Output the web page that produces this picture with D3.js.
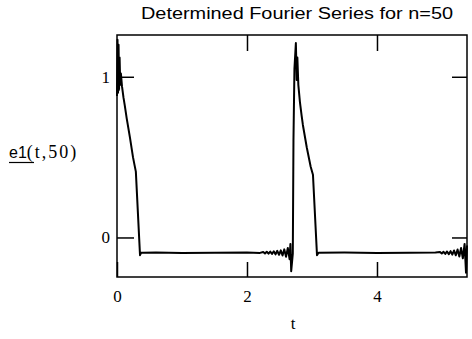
<!DOCTYPE html>
<html>
<head>
<meta charset="utf-8">
<script src="https://cdn.jsdelivr.net/npm/d3@7"></script>
<style>
  body { margin: 0; background: #fff; }
  .tick line { stroke: #000; stroke-width: 1.5px; }
  .domain { display: none; }
</style>
</head>
<body>
<svg id="chart" width="472" height="339"></svg>
<script>
// e1(t, 50)
const tValues = [
  0, 0.008, 0.016, 0.024, 0.032, 0.04, 0.05, 0.06, 0.077, 0.10, 0.12, 0.15, 0.20, 0.246, 0.27, 0.29, 0.354, 0.37, 0.40,
  0.6, 1.0, 1.5, 2.0, 2.2,
  2.25, 2.277, 2.304, 2.331, 2.358, 2.385, 2.412, 2.439, 2.466, 2.493, 2.52, 2.547, 2.574, 2.601, 2.628, 2.655, 2.668, 2.68,
  2.705, 2.715, 2.73, 2.752, 2.765, 2.775, 2.79, 2.815, 2.84, 2.86, 2.92, 2.98, 3.015, 3.077, 3.10,
  3.5, 4.0, 4.5, 4.9,
  4.97, 4.997, 5.024, 5.051, 5.078, 5.105, 5.132, 5.159, 5.186, 5.213, 5.24, 5.267, 5.294, 5.321, 5.348, 5.37, 5.385
];
const eValues = [
  0.88, 1.23, 0.90, 1.20, 0.92, 1.12, 0.95, 1.02, 0.94, 0.87, 0.82, 0.74, 0.62, 0.50, 0.45, 0.41, -0.11, -0.095, -0.095,
  -0.094, -0.096, -0.095, -0.094, -0.096,
  -0.090, -0.100, -0.089, -0.101, -0.088, -0.103, -0.086, -0.105, -0.083, -0.108, -0.080, -0.112, -0.074, -0.120, -0.065, -0.135, -0.04, -0.21,
  -0.10, 0.6, 1.05, 1.21, 0.98, 1.12, 0.95, 0.84, 0.76, 0.70, 0.56, 0.44, 0.39, -0.11, -0.095,
  -0.094, -0.096, -0.095, -0.094,
  -0.090, -0.100, -0.089, -0.102, -0.087, -0.104, -0.085, -0.107, -0.081, -0.111, -0.075, -0.118, -0.066, -0.13, -0.04, -0.22, -0.05
];
const xTicks = [0, 2, 4];
const yTicks = [0, 1];
const xDomain = [0, 5.385];
const yDomain = [-0.246, 1.26];

const serif = '"Liberation Serif", "Times New Roman", "DejaVu Serif", serif';
const sans = '"Liberation Sans", Arial, sans-serif';

const svg = d3.select('#chart');
const margin = { left: 117, right: 467, top: 35, bottom: 277 };

const x = d3.scaleLinear().domain(xDomain).range([margin.left, margin.right]);
const y = d3.scaleLinear().domain(yDomain).range([margin.bottom, margin.top]);

const points = tValues.map((t, i) => [t, eValues[i]]);

// curve
svg.append('path')
  .datum(points)
  .attr('fill', 'none')
  .attr('stroke', '#000')
  .attr('stroke-width', 2)
  .attr('stroke-linejoin', 'round')
  .attr('d', d3.line().x(d => x(d[0])).y(d => y(d[1])));

// inward ticks on all four sides
const xAxis = svg.append('g')
  .attr('transform', `translate(0,${margin.bottom})`)
  .call(d3.axisBottom(x).tickValues(xTicks).tickSize(-15).tickPadding(13).tickFormat(d3.format('d')));

svg.append('g')
  .attr('transform', `translate(0,${margin.top})`)
  .call(d3.axisTop(x).tickValues(xTicks.slice(1)).tickSize(-16).tickFormat(''));

const yAxis = svg.append('g')
  .attr('transform', `translate(${margin.left},0)`)
  .call(d3.axisLeft(y).tickValues(yTicks).tickSize(-17).tickPadding(7).tickFormat(d3.format('d')));

svg.append('g')
  .attr('transform', `translate(${margin.right},0)`)
  .call(d3.axisRight(y).tickValues(yTicks).tickSize(-15).tickFormat(''));

[xAxis, yAxis].forEach(g => g.selectAll('.tick text')
  .attr('font-family', serif)
  .attr('font-size', 17)
  .attr('fill', '#000'));

// frame
svg.append('rect')
  .attr('x', margin.left)
  .attr('y', margin.top)
  .attr('width', margin.right - margin.left)
  .attr('height', margin.bottom - margin.top)
  .attr('fill', 'none')
  .attr('stroke', '#000')
  .attr('stroke-width', 1.5);

// title
svg.append('text')
  .attr('x', 297)
  .attr('y', 19)
  .attr('text-anchor', 'middle')
  .attr('font-family', sans)
  .attr('font-size', 16)
  .attr('textLength', 312)
  .attr('lengthAdjust', 'spacingAndGlyphs')
  .text('Determined Fourier Series for n=50');

// y label
const yl = svg.append('text')
  .attr('x', 9)
  .attr('y', 158);
yl.append('tspan')
  .attr('font-family', sans)
  .attr('font-size', 16)
  .text('e1');
yl.append('tspan')
  .attr('font-family', serif)
  .attr('font-size', 18)
  .attr('letter-spacing', 2)
  .text('(t,50)');
svg.append('line')
  .attr('x1', 9).attr('x2', 34)
  .attr('y1', 162.5).attr('y2', 162.5)
  .attr('stroke', '#000')
  .attr('stroke-width', 1.2);

// x label
svg.append('text')
  .attr('x', 293)
  .attr('y', 329)
  .attr('text-anchor', 'middle')
  .attr('font-family', serif)
  .attr('font-size', 17)
  .text('t');
</script>
</body>
</html>
